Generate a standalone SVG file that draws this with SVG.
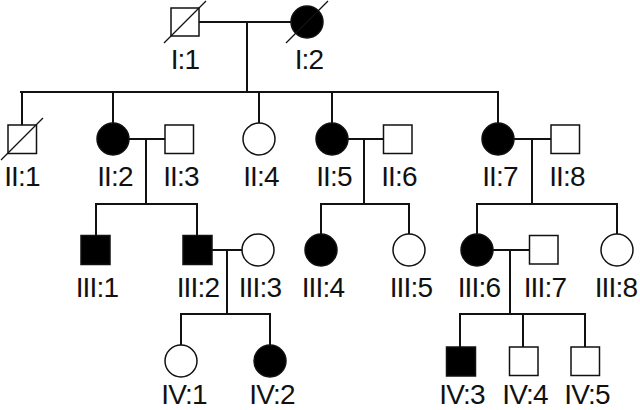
<svg xmlns="http://www.w3.org/2000/svg" width="640" height="410" viewBox="0 0 640 410">
<style>
.ln{stroke:#111;stroke-width:2;fill:none;stroke-linecap:square}
.sym{stroke:#111;stroke-width:1.5;fill:#fff}
.aff{fill:#000}
.dec{stroke:#111;stroke-width:1.3}
.lb{font-family:"Liberation Sans",Arial,sans-serif;font-size:28px;letter-spacing:-0.8px;fill:#111;text-anchor:middle}
</style>
<rect width="640" height="410" fill="#fff"/>
<g id="connectors">
<path class="ln" d="M199,22H291M247,22V92M21,92H498"/>
<path class="ln" d="M22,92V124M113,92V123M259,92V123M332,92V123M498,92V123"/>
<path class="ln" d="M129,139H164M146,139V204M96,204H197M96,204V235M197,204V235"/>
<path class="ln" d="M348,139H383M364,139V204M321,204H409M321,204V234M409,204V234"/>
<path class="ln" d="M514,139H550M532,139V204M477,204H617M477,204V234M617,204V234"/>
<path class="ln" d="M212,250H242M227,250V314M181,314H270M181,314V345M270,314V345"/>
<path class="ln" d="M493,250H529M510,250V314M460,314H585M460,314V346M523,314V346M585,314V346"/>
</g>
<g id="I1"><rect class="sym" x="171" y="8" width="28" height="28"/><line class="dec" x1="164" y1="43" x2="206" y2="1"/><text class="lb" x="185" y="69">I:1</text></g>
<g id="I2"><circle class="sym aff" cx="307" cy="22" r="16"/><line class="dec" x1="286" y1="43" x2="328" y2="1"/><text class="lb" x="309" y="69">I:2</text></g>
<g id="II1"><rect class="sym" x="8" y="125" width="28.5" height="28.5"/><line class="dec" x1="1" y1="160" x2="43" y2="118"/><text class="lb" x="22" y="186">II:1</text></g>
<g id="II2"><circle class="sym aff" cx="113" cy="139" r="16"/><text class="lb" x="115" y="186">II:2</text></g>
<g id="II3"><rect class="sym" x="165" y="125" width="28.5" height="28.5"/><text class="lb" x="181" y="186">II:3</text></g>
<g id="II4"><circle class="sym" cx="259" cy="139" r="16"/><text class="lb" x="261" y="186">II:4</text></g>
<g id="II5"><circle class="sym aff" cx="332" cy="139" r="16"/><text class="lb" x="334" y="186">II:5</text></g>
<g id="II6"><rect class="sym" x="383.5" y="125" width="28.5" height="28.5"/><text class="lb" x="399" y="186">II:6</text></g>
<g id="II7"><circle class="sym aff" cx="498" cy="139" r="16"/><text class="lb" x="500" y="186">II:7</text></g>
<g id="II8"><rect class="sym" x="551" y="125" width="28.5" height="28.5"/><text class="lb" x="567" y="186">II:8</text></g>
<g id="III1"><rect class="sym aff" x="81" y="235.5" width="29" height="29"/><text class="lb" x="97" y="297">III:1</text></g>
<g id="III2"><rect class="sym aff" x="183" y="235.5" width="29" height="29"/><text class="lb" x="198" y="297">III:2</text></g>
<g id="III3"><circle class="sym" cx="258" cy="250" r="16"/><text class="lb" x="260" y="297">III:3</text></g>
<g id="III4"><circle class="sym aff" cx="321" cy="250" r="16"/><text class="lb" x="323" y="297">III:4</text></g>
<g id="III5"><circle class="sym" cx="409" cy="250" r="16"/><text class="lb" x="411" y="297">III:5</text></g>
<g id="III6"><circle class="sym aff" cx="477" cy="250" r="16"/><text class="lb" x="479" y="297">III:6</text></g>
<g id="III7"><rect class="sym" x="529.5" y="235.5" width="28.5" height="28.5"/><text class="lb" x="545" y="297">III:7</text></g>
<g id="III8"><circle class="sym" cx="617" cy="250" r="16"/><text class="lb" x="616" y="297">III:8</text></g>
<g id="IV1"><circle class="sym" cx="181" cy="361" r="16"/><text class="lb" x="184" y="404">IV:1</text></g>
<g id="IV2"><circle class="sym aff" cx="270" cy="361" r="16"/><text class="lb" x="272" y="404">IV:2</text></g>
<g id="IV3"><rect class="sym aff" x="446.5" y="347" width="29" height="29"/><text class="lb" x="462" y="404">IV:3</text></g>
<g id="IV4"><rect class="sym" x="509.5" y="347" width="28.5" height="28.5"/><text class="lb" x="525" y="404">IV:4</text></g>
<g id="IV5"><rect class="sym" x="571" y="347" width="28.5" height="28.5"/><text class="lb" x="587" y="404">IV:5</text></g>
</svg>
